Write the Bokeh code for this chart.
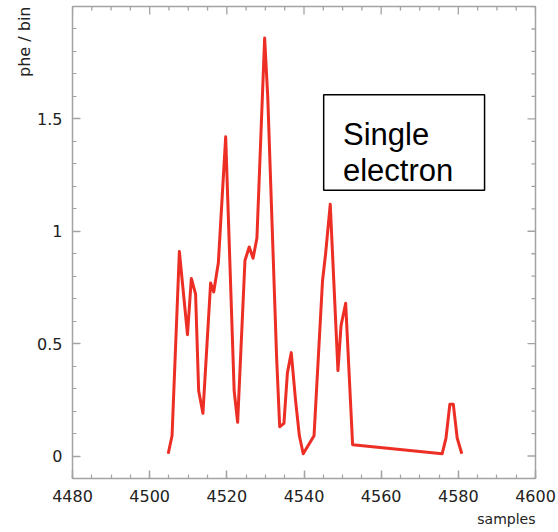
from bokeh.plotting import figure
from bokeh.models import FixedTicker, Label, BoxAnnotation, Range1d, Title
from bokeh.embed import file_html
from bokeh.resources import INLINE

# ---- data ----
samples = [4504.8, 4505.8, 4507.7, 4509.8, 4510.8, 4511.9, 4512.7, 4513.8,
           4515.8, 4516.6, 4517.8, 4519.7, 4521.9, 4522.8, 4524.7, 4525.8,
           4526.8, 4527.8, 4529.8, 4530.6, 4532.9, 4533.7, 4534.8, 4535.7,
           4536.7, 4537.8, 4538.8, 4539.8, 4542.6, 4544.8, 4545.6, 4546.8,
           4548.8, 4549.6, 4550.8, 4552.6, 4575.8, 4576.8, 4577.8, 4578.7,
           4579.7, 4580.9]
phe = [0.01, 0.09, 0.91, 0.54, 0.79, 0.72, 0.29, 0.19,
       0.77, 0.73, 0.86, 1.42, 0.29, 0.15, 0.87, 0.93,
       0.88, 0.97, 1.86, 1.60, 0.44, 0.13, 0.145, 0.37,
       0.46, 0.25, 0.09, 0.01, 0.09, 0.78, 0.90, 1.12,
       0.38, 0.58, 0.68, 0.05, 0.01, 0.08, 0.23, 0.23,
       0.08, 0.01]
x_ticks = [4480, 4500, 4520, 4540, 4560, 4580, 4600]
x_minor = list(range(4480, 4601, 5))
y_ticks = [0, 0.5, 1, 1.5]
y_minor = [round(-0.1 + 0.1 * i, 2) for i in range(22)]
x_label = "samples"
y_label = "phe / bin"
box_lines = ["Single", "electron"]

GRAY = "#a3a3a3"
TXT = "#222222"
X0, X1, Y0, Y1 = 4480, 4600, -0.1, 2.0
FRAME_W, FRAME_H = 463, 472

p = figure(width=558, height=532, output_backend="svg", toolbar_location=None,
           x_range=Range1d(X0, X1), y_range=Range1d(Y0, Y1),
           min_border_left=72, min_border_right=23, min_border_top=6,
           min_border_bottom=54)
p.xgrid.visible = False
p.ygrid.visible = False
p.outline_line_color = GRAY
p.outline_line_width = 1.5
p.background_fill_color = "white"
p.border_fill_color = "white"

for ax in p.axis:
    ax.axis_line_color = None
    ax.major_tick_in = 8
    ax.major_tick_out = 0
    ax.minor_tick_in = 4
    ax.minor_tick_out = 0
    ax.major_tick_line_color = GRAY
    ax.minor_tick_line_color = GRAY
    ax.major_tick_line_width = 1.5
    ax.minor_tick_line_width = 1.2
    ax.major_label_text_font = "DejaVu Sans"
    ax.major_label_text_font_size = "16px"
    ax.major_label_text_color = TXT

p.xaxis.ticker = FixedTicker(ticks=x_ticks, minor_ticks=x_minor)
p.yaxis.ticker = FixedTicker(ticks=y_ticks, minor_ticks=y_minor)
p.xaxis.major_label_standoff = 11
p.yaxis.major_label_standoff = 10

# mirrored inward ticks on the top and right edges of the frame
px_x = FRAME_W / (X1 - X0)
px_y = FRAME_H / (Y1 - Y0)
tx = [t for t in x_minor]
tx_len = [(8 if t in x_ticks else 4) / px_y for t in tx]
p.segment(x0=tx, x1=tx, y0=[Y1] * len(tx), y1=[Y1 - l for l in tx_len],
          line_color=GRAY, line_width=1.3)
ty = [t for t in y_minor] + [t for t in y_ticks if t not in y_minor]
ty_len = [(8 if any(abs(t - m) < 1e-9 for m in y_ticks) else 4) / px_x for t in ty]
p.segment(x0=[X1] * len(ty), x1=[X1 - l for l in ty_len], y0=ty, y1=ty,
          line_color=GRAY, line_width=1.3)

p.line(samples, phe, line_color="#ec2e25", line_width=3, line_join="round")

# axis titles at the ends of the axes, as in the reference
p.add_layout(Title(text=x_label, align="right", text_font="DejaVu Sans",
                   text_font_size="14px", text_font_style="normal",
                   text_color=TXT, standoff=8), "below")
p.add_layout(Title(text=y_label, align="right", text_font="DejaVu Sans",
                   text_font_size="16px", text_font_style="normal",
                   text_color=TXT, standoff=2), "left")

# annotation box
p.add_layout(BoxAnnotation(left=4545.1, right=4586.8, bottom=1.182, top=1.607,
                           fill_color=None, line_color="black", line_width=1.5,
                           line_alpha=1.0))
p.add_layout(Label(x=4550.1, y=1.432, text=box_lines[0], text_font="Liberation Sans",
                   text_font_size="31px", text_color="black", text_baseline="alphabetic"))
p.add_layout(Label(x=4550.1, y=1.272, text=box_lines[1], text_font="Liberation Sans",
                   text_font_size="31px", text_color="black", text_baseline="alphabetic"))

open("out.html", "w").write(file_html(p, INLINE))
